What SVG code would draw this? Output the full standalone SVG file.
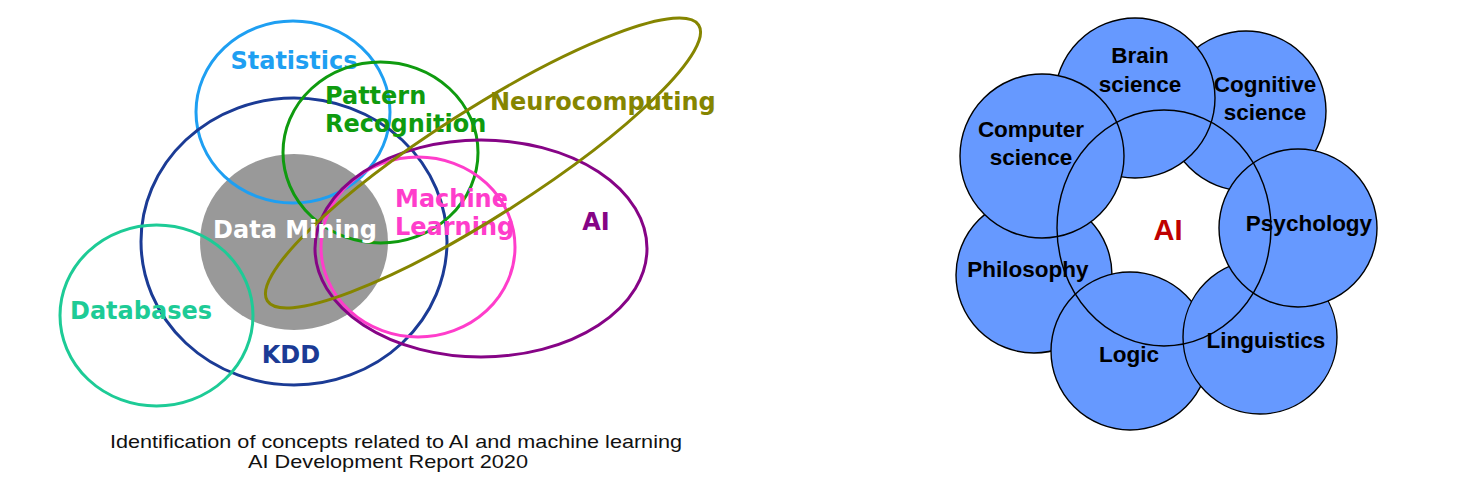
<svg xmlns="http://www.w3.org/2000/svg" width="1481" height="494" viewBox="0 0 1481 494">
<style>
.o{fill:none;stroke-width:3}
.lt{font-family:"DejaVu Sans",Verdana,sans-serif;font-weight:bold;font-size:24px}
.b{fill:#6699FF;stroke:#000;stroke-width:1.4}
.rt{font-family:"Liberation Sans",Arial,sans-serif;font-weight:bold;font-size:22.5px;fill:#000;text-anchor:middle}
.cap{font-family:"Liberation Sans",Arial,sans-serif;font-size:18.5px;fill:#111}
</style>
<rect width="1481" height="494" fill="#fff"/>
<g id="left-diagram">
<g id="data-mining"><ellipse cx="294" cy="242" rx="94" ry="88" fill="#999"/></g>
<g id="statistics"><ellipse class="o" cx="293" cy="112" rx="97" ry="91" stroke="#1E9FF2"/><text class="lt" x="294" y="69" text-anchor="middle" fill="#1E9FF2">Statistics</text></g>
<g id="kdd"><ellipse class="o" cx="294" cy="241.5" rx="153" ry="143.5" stroke="#1B3B95"/><text class="lt" x="291" y="363" text-anchor="middle" fill="#1B3B95">KDD</text></g>
<g id="databases"><ellipse class="o" cx="156.5" cy="315.5" rx="96.5" ry="90.5" stroke="#1DCB96"/><text class="lt" x="141" y="319" text-anchor="middle" fill="#1DCB96">Databases</text></g>
<g id="pattern-recognition"><ellipse class="o" cx="380.5" cy="152.5" rx="97.5" ry="90.5" stroke="#0F9B0F"/><text class="lt" x="325" y="104" fill="#0F9B0F">Pattern</text><text class="lt" x="325" y="132" fill="#0F9B0F">Recognition</text></g>
<g id="machine-learning"><ellipse class="o" cx="418" cy="247" rx="97" ry="90" stroke="#FF3DCB"/><text class="lt" x="395" y="207" fill="#FF3DCB">Machine</text><text class="lt" x="395" y="235" fill="#FF3DCB">Learning</text></g>
<g id="ai-left"><ellipse class="o" cx="481" cy="248.5" rx="166" ry="108.5" stroke="#860486"/><text class="lt" x="596" y="230" text-anchor="middle" fill="#860486">AI</text></g>
<g id="neurocomputing"><ellipse class="o" cx="483" cy="163" rx="256" ry="53" transform="rotate(-32.6 483 163)" stroke="#858500"/><text class="lt" x="490" y="110" fill="#858500">Neurocomputing</text></g>
<text class="lt" x="295" y="238" text-anchor="middle" fill="#fff">Data Mining</text>
<g id="caption">
<text class="cap" x="110" y="448" textLength="572" lengthAdjust="spacingAndGlyphs">Identification of concepts related to AI and machine learning</text>
<text class="cap" x="248" y="468" textLength="280" lengthAdjust="spacingAndGlyphs">AI Development Report 2020</text>
</g>
</g>
<g id="right-diagram">
<g id="cognitive-science"><circle class="b" cx="1246" cy="111" r="80"/></g>
<g id="brain-science"><circle class="b" cx="1135" cy="98" r="80"/></g>
<g id="philosophy"><circle class="b" cx="1034" cy="275" r="78"/></g>
<g id="computer-science"><circle class="b" cx="1042" cy="156" r="82"/></g>
<g id="logic"><circle class="b" cx="1130" cy="351" r="79"/></g>
<g id="linguistics"><circle class="b" cx="1260" cy="337" r="77"/></g>
<g id="psychology"><circle class="b" cx="1298" cy="228" r="79"/></g>
<g id="ai-ring"><ellipse cx="1164" cy="228" rx="107" ry="118" fill="none" stroke="#000" stroke-width="1.4"/></g>
<g id="labels">
<text class="rt" x="1140" y="63">Brain</text><text class="rt" x="1140" y="92">science</text>
<text class="rt" x="1265" y="92">Cognitive</text><text class="rt" x="1265" y="120">science</text>
<text class="rt" x="1031" y="137">Computer</text><text class="rt" x="1031" y="165">science</text>
<text class="rt" x="1309" y="231">Psychology</text>
<text class="rt" x="1028" y="277">Philosophy</text>
<text class="rt" x="1129" y="362">Logic</text>
<text class="rt" x="1266" y="348">Linguistics</text>
<text x="1168" y="240" text-anchor="middle" font-family="'Liberation Sans',Arial,sans-serif" font-weight="bold" font-size="29" fill="#C00000">AI</text>
</g>
</g>
<g id="connectors"/>
</svg>
